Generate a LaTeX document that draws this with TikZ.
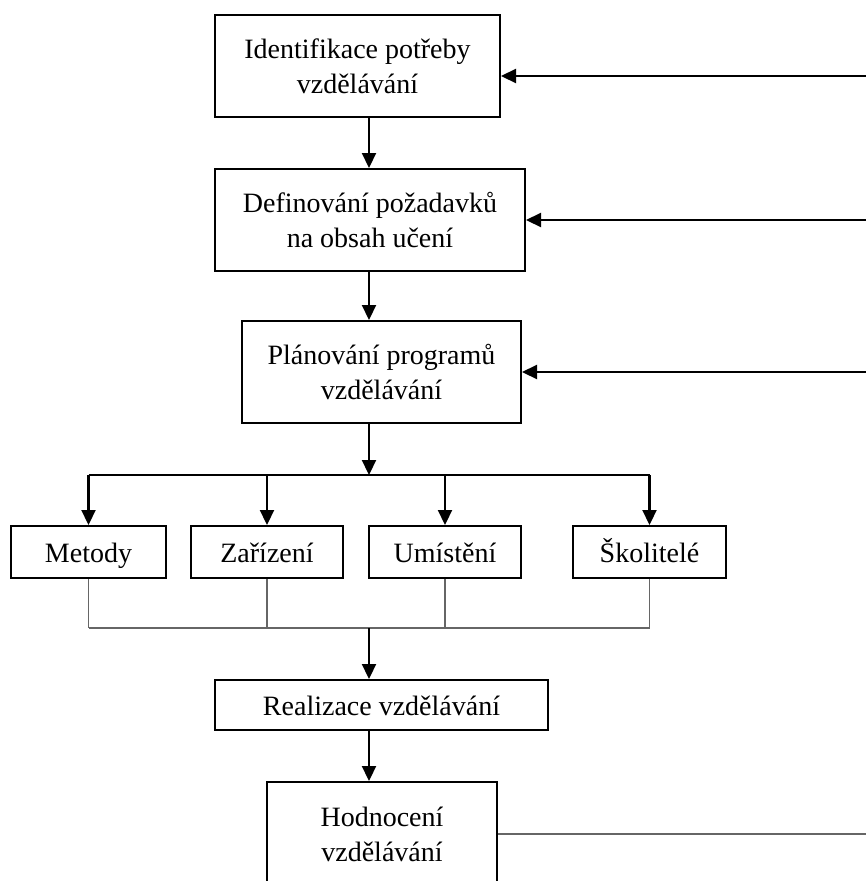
\documentclass[tikz,border=0pt]{standalone}
\usepackage{fontspec}
\setmainfont{Liberation Serif}
\usetikzlibrary{arrows.meta,positioning,calc}

\begin{document}
\begin{tikzpicture}[x=1pt,y=-1pt,font=\fontsize{28}{35}\selectfont,
  box/.style={draw,line width=2pt,align=center,inner sep=0pt},
  unit/.style={draw,line width=2pt,inner sep=0pt,minimum height=52,text height=24pt,text depth=4pt},
  arr/.style={line width=2.2pt,-{Triangle[length=15pt,width=14pt]}},
  link/.style={line width=1.6pt,draw=black!60}]
  \useasboundingbox (0,0) rectangle (866,881);
  \node[box,minimum width=285,minimum height=102] (ident) at (357.5,66) {Identifikace potřeby\\vzdělávání};
  \node[box,minimum width=310,minimum height=102] (defin) at (370,220) {Definování požadavků\\na obsah učení};
  \node[box,minimum width=279,minimum height=102] (plan) at (381.5,372) {Plánování programů\\vzdělávání};
  \node[unit,minimum width=155] (metody) at (88.5,552) {Metody};
  \node[unit,minimum width=152] (zariz) at (267,552) {Zařízení};
  \node[unit,minimum width=152] (umist) at (445,552) {Umístění};
  \node[unit,minimum width=153] (skol) at (649.5,552) {Školitelé};
  \node[unit,minimum width=333,minimum height=50] (real) at (381.5,705) {Realizace vzdělávání};
  \node[box,minimum width=230,minimum height=104] (hodn) at (382,834) {Hodnocení\\vzdělávání};
  \coordinate (spine) at (369,0);
  \coordinate (fan) at (369,475);  \coordinate (join) at (369,628);
  \coordinate (fb1) at (866,76);   \coordinate (fb2) at (866,220);
  \coordinate (fb3) at (866,372);  \coordinate (fb4) at (866,834);
  % main chain
  \draw[arr] (ident.south -| spine) -- (defin.north -| spine);
  \draw[arr] (defin.south -| spine) -- (plan.north -| spine);
  \draw[arr] (plan.south -| spine) -- (fan);
  \draw[line width=2.2pt] (metody.north |- fan) -- (skol.north |- fan);
  \foreach \n in {metody,zariz,umist,skol}
    \draw[arr] (\n.north |- fan) -- (\n.north);
  \foreach \n in {metody,zariz,umist,skol}
    \draw[link] (\n.south) -- (\n.south |- join);
  \draw[link] (metody.south |- join) -- (skol.south |- join);
  \draw[arr] (join) -- (real.north -| join);
  \draw[arr] (real.south -| spine) -- (hodn.north -| spine);
  % feedback
  \draw[arr] (fb1) -- (ident.east |- fb1);
  \draw[arr] (fb2) -- (defin.east |- fb2);
  \draw[arr] (fb3) -- (plan.east |- fb3);
  \draw[link] (hodn.east) -- (fb4);
\end{tikzpicture}
\end{document}
